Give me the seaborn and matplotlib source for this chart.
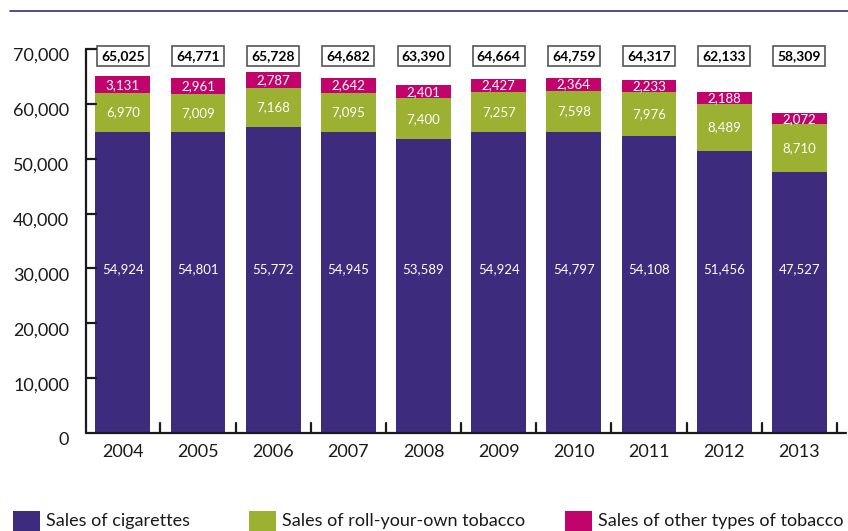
import matplotlib
matplotlib.use("Agg")
import matplotlib.pyplot as plt
from matplotlib.patches import Rectangle
from matplotlib.lines import Line2D
import matplotlib.transforms as mtransforms
import seaborn as sns
import pandas as pd

years = ["2004", "2005", "2006", "2007", "2008", "2009", "2010", "2011", "2012", "2013"]
cigarettes = [54924, 54801, 55772, 54945, 53589, 54924, 54797, 54108, 51456, 47527]
roll_your_own = [6970, 7009, 7168, 7095, 7400, 7257, 7598, 7976, 8489, 8710]
other_tobacco = [3131, 2961, 2787, 2642, 2401, 2427, 2364, 2233, 2188, 2072]
totals = [65025, 64771, 65728, 64682, 63390, 64664, 64759, 64317, 62133, 58309]
series_names = ["Sales of cigarettes", "Sales of roll-your-own tobacco", "Sales of other types of tobacco"]
y_ticks = [0, 10000, 20000, 30000, 40000, 50000, 60000, 70000]

PURPLE = "#3d2b7e"
GREEN = "#9cb032"
MAGENTA = "#c0046c"
DARK = "#1a1a1a"

sns.set_theme(style="white")
plt.rcParams['font.family'] = ['Lato', 'DejaVu Sans']

df = pd.DataFrame({"year": years, "cig": cigarettes, "ryo": roll_your_own, "oth": other_tobacco})
df["cig_ryo"] = df["cig"] + df["ryo"]
df["all"] = df["cig_ryo"] + df["oth"]

fig = plt.figure(figsize=(8.48, 5.31), dpi=100)
ax = fig.add_axes([86/848, 1-433/531, (846-86)/848, (433-49)/531])

w = 0.73
sns.barplot(data=df, x="year", y="all", color=MAGENTA, width=w, saturation=1, ax=ax, linewidth=0)
sns.barplot(data=df, x="year", y="cig_ryo", color=GREEN, width=w, saturation=1, ax=ax, linewidth=0)
sns.barplot(data=df, x="year", y="cig", color=PURPLE, width=w, saturation=1, ax=ax, linewidth=0)

ax.set_xlim(-0.49, 9.62)
ax.set_ylim(0, 70000)
ax.set_yticks(y_ticks)
ax.set_yticklabels([f"{v:,}" for v in y_ticks])
ax.set_xlabel("")
ax.set_ylabel("")

for s in ["top", "right", "left", "bottom"]:
    ax.spines[s].set_visible(False)

LW = 1.6
ax.add_line(Line2D([0, 0], [0, 1], transform=ax.transAxes, color=DARK, lw=LW,
                   clip_on=False, zorder=10))
ax.add_line(Line2D([0, 1], [0, 0], transform=ax.transAxes, color=DARK, lw=LW,
                   clip_on=False, zorder=10))
ytr = ax.get_yaxis_transform()
for v in y_ticks[1:]:
    ax.add_line(Line2D([0, 0.013], [v, v], transform=ytr, color=DARK, lw=LW,
                       clip_on=False, zorder=10))

ax.tick_params(axis="y", left=False, length=0, labelsize=13, pad=12, labelcolor=DARK)
ax.tick_params(axis="x", bottom=False, length=0, labelsize=13, pad=8, labelcolor=DARK)
offset = mtransforms.ScaledTranslation(0, -4/72, fig.dpi_scale_trans)
for lab in ax.get_yticklabels():
    lab.set_transform(lab.get_transform() + offset)

# separators between bars on x-axis
for i in range(len(years)):
    xs = i + 0.5
    ax.add_line(Line2D([xs, xs], [0, 1800], color=DARK, lw=LW, clip_on=False, zorder=10))

# value labels
for i in range(len(years)):
    ax.text(i, 29800, f"{cigarettes[i]:,}", ha="center", va="center", color="white", fontsize=9.5)
    ax.text(i, cigarettes[i] + roll_your_own[i] / 2, f"{roll_your_own[i]:,}", ha="center", va="center",
            color="white", fontsize=9.5)
    ax.text(i, cigarettes[i] + roll_your_own[i] + other_tobacco[i] / 2, f"{other_tobacco[i]:,}",
            ha="center", va="center", color="white", fontsize=9.5)
    ax.text(i, 68700, f"{totals[i]:,}", ha="center", va="center", color="black", fontsize=10,
            fontweight="bold",
            bbox=dict(boxstyle="square,pad=0.3", fc="white", ec="#555555", lw=1.2))

# top decorative line
fig.add_artist(Line2D([10/848, 1.0], [1-11/531, 1-11/531], color=PURPLE, lw=1.2))

# legend (manual)
leg_x = [13, 249, 565]
colors = [PURPLE, GREEN, MAGENTA]
for x0, c, name in zip(leg_x, colors, series_names):
    fig.add_artist(Rectangle((x0/848, 0), 27/848, 20/531, transform=fig.transFigure,
                             facecolor=c, edgecolor="none"))
    fig.text((x0 + 33)/848, 10/531, name, ha="left", va="center", fontsize=13, color=DARK)

fig.savefig("out.png", dpi=100)
